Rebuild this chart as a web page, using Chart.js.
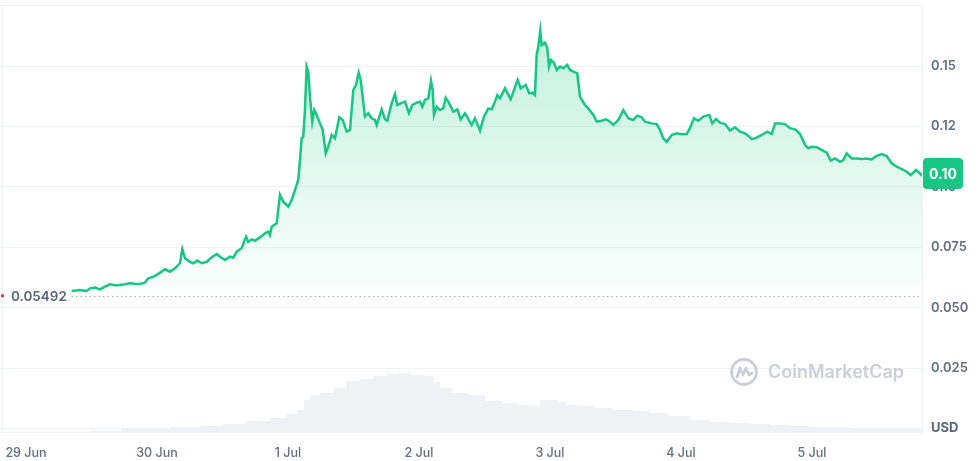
<!DOCTYPE html>
<html><head><meta charset="utf-8">
<script src="https://cdn.jsdelivr.net/npm/chart.js@4.4.1/dist/chart.umd.min.js"></script>
<style>html,body{margin:0;padding:0;background:#fff}#wrap{width:980px;height:461px;position:relative}</style>
</head><body><div id="wrap"><canvas id="c" width="980" height="461"></canvas></div>
<script>
// ---- data ----
const dayLabels = ['29 Jun','30 Jun','1 Jul','2 Jul','3 Jul','4 Jul','5 Jul'];
const dayHours = [0,24,48,72,96,120,144];           // hours since 29 Jun 00:00
const yTickValues = [0,0.025,0.05,0.075,0.1,0.125,0.15,0.175];
const yTickLabels = ['USD','0.025','0.050','0.075','0.10','0.12','0.15',''];
const openPrice = 0.05492;
const openLabel = '0.05492';
const lastLabel = '0.10';
const watermark = 'CoinMarketCap';

// [hour, price USD]
const priceSeries = [
[8.37,0.0569],[9.89,0.0573],[11.12,0.0569],[11.73,0.0580],[12.64,0.0583],[13.56,0.0576],[14.47,0.0587],[15.39,0.0597],
[16.31,0.0593],[17.22,0.0594],[18.14,0.0597],[19.05,0.0601],[19.97,0.0599],[20.89,0.0598],[21.80,0.0604],[22.41,0.0622],
[23.32,0.0628],[24.24,0.0640],[25.47,0.0659],[26.38,0.0649],[27.30,0.0663],[28.21,0.0684],[28.64,0.0742],[29.13,0.0705],
[30.05,0.0690],[30.65,0.0684],[31.38,0.0695],[32.19,0.0684],[33.11,0.0690],[34.02,0.0709],[34.94,0.0722],[35.54,0.0711],
[36.46,0.0697],[37.37,0.0711],[37.98,0.0707],[38.60,0.0732],[39.52,0.0746],[40.31,0.0794],[40.73,0.0773],[41.35,0.0783],
[41.96,0.0777],[42.87,0.0791],[43.79,0.0808],[44.39,0.0815],[44.70,0.0801],[45.01,0.0835],[45.93,0.0849],[46.54,0.0967],
[47.14,0.0939],[48.06,0.0918],[48.68,0.0946],[49.28,0.0987],[49.89,0.1029],[50.20,0.1111],[50.51,0.1201],[50.80,0.1208],
[51.11,0.1318],[51.42,0.1498],[51.72,0.1477],[52.03,0.1373],[52.45,0.1270],[52.82,0.1318],[53.26,0.1298],[53.86,0.1263],
[54.36,0.1236],[54.91,0.1139],[55.38,0.1166],[56.01,0.1215],[56.61,0.1201],[57.40,0.1288],[58.02,0.1277],[58.76,0.1229],
[59.36,0.1236],[59.97,0.1401],[60.46,0.1422],[60.95,0.1473],[61.32,0.1443],[62.11,0.1291],[62.71,0.1305],[63.34,0.1284],
[63.94,0.1277],[64.25,0.1256],[65.17,0.1321],[65.77,0.1280],[66.19,0.1274],[67.00,0.1346],[67.60,0.1385],[68.02,0.1339],
[68.65,0.1346],[69.44,0.1353],[70.17,0.1305],[70.77,0.1339],[71.58,0.1349],[72.19,0.1353],[72.61,0.1332],[73.10,0.1360],
[73.71,0.1367],[74.20,0.1440],[74.51,0.1401],[74.75,0.1298],[75.24,0.1332],[75.85,0.1318],[76.45,0.1325],[76.89,0.1369],
[77.37,0.1353],[78.29,0.1311],[79.02,0.1321],[79.64,0.1280],[80.43,0.1305],[81.66,0.1256],[82.26,0.1284],[83.18,0.1233],
[83.91,0.1291],[84.70,0.1325],[85.32,0.1321],[85.93,0.1353],[86.35,0.1380],[86.84,0.1367],[87.76,0.1408],[88.80,0.1363],
[89.41,0.1401],[90.08,0.1443],[90.63,0.1408],[91.11,0.1415],[91.55,0.1422],[92.21,0.1387],[92.83,0.1390],[93.25,0.1380],
[93.56,0.1546],[93.86,0.1580],[94.22,0.1647],[94.48,0.1587],[95.09,0.1597],[95.51,0.1574],[95.82,0.1498],[96.18,0.1525],
[96.73,0.1514],[97.23,0.1484],[97.83,0.1498],[98.44,0.1491],[99.17,0.1505],[99.67,0.1484],[100.58,0.1474],[101.00,0.1470],
[101.50,0.1373],[102.41,0.1339],[103.02,0.1325],[103.94,0.1298],[104.56,0.1270],[105.47,0.1274],[106.26,0.1280],[106.99,0.1270],
[107.60,0.1256],[108.52,0.1277],[109.43,0.1318],[110.35,0.1284],[111.26,0.1277],[111.99,0.1295],[112.80,0.1288],[113.41,0.1270],
[114.63,0.1263],[115.55,0.1260],[116.15,0.1236],[116.76,0.1201],[117.38,0.1187],[118.30,0.1215],[119.22,0.1222],[120.13,0.1218],
[121.05,0.1219],[121.65,0.1243],[122.38,0.1284],[123.17,0.1274],[124.09,0.1291],[125.19,0.1298],[125.74,0.1263],[126.42,0.1281],
[127.15,0.1266],[128.07,0.1260],[128.98,0.1233],[129.90,0.1247],[130.82,0.1229],[131.73,0.1222],[132.52,0.1208],[132.96,0.1198],
[133.88,0.1204],[134.79,0.1215],[135.82,0.1229],[136.63,0.1219],[137.23,0.1263],[138.15,0.1263],[139.06,0.1260],[139.98,0.1243],
[141.08,0.1236],[141.81,0.1219],[142.73,0.1173],[143.33,0.1160],[143.95,0.1166],[144.87,0.1164],[145.78,0.1153],[146.70,0.1142],
[147.43,0.1109],[148.22,0.1118],[149.13,0.1104],[149.74,0.1111],[150.36,0.1139],[151.28,0.1118],[152.19,0.1118],[153.11,0.1116],
[154.02,0.1118],[154.94,0.1114],[155.86,0.1129],[156.77,0.1136],[157.69,0.1128],[158.61,0.1098],[159.52,0.1084],[160.44,0.1074],
[161.36,0.1063],[162.09,0.1049],[163.06,0.1070],[163.79,0.1056],[164.21,0.1045]
];

// [hour, relative 24h volume]
const volumeSeries = [
[11.7,1],[23.3,3],[29.5,5],[34.3,6],[37.9,8],[42.9,11],[46.5,14],[48.9,18],[50.5,22],[51.4,32],[52.6,37],[55.1,39],
[57.5,44],[60.0,51],[62.4,53],[64.9,56],[67.3,58],[69.1,59],[71.6,57],[74.0,56],[75.2,50],[76.5,44],[79.5,39],[82.6,37],
[85.6,31],[88.7,29],[91.7,27],[93.6,26],[94.8,32],[96.6,32],[98.4,30],[99.7,27],[102.7,26],[105.8,24],[109.4,22],[113.1,21],
[115.5,19],[119.8,16],[123.5,12],[127.1,10],[130.8,9],[134.5,8],[138.1,7],[141.8,6],[145.5,5],[149.1,5],[152.8,4],[156.5,4],
[160.1,3],[164.2,3]
];

// ---- chart ----
const GREEN = '#16c784';
const GRID = '#eff2f5';
const LABEL = '#616e85';

const overlay = {
  id: 'overlay',
  beforeDatasetsDraw(chart) {
    const {ctx, chartArea, scales} = chart;
    const y = scales.y.getPixelForValue(openPrice);
    const x0 = scales.x.getPixelForValue(priceSeries[0][0]);
    ctx.save();
    ctx.strokeStyle = '#9aa3b5';
    ctx.lineWidth = 1;
    ctx.setLineDash([1.2, 3.3]);
    ctx.beginPath();
    ctx.moveTo(x0, Math.round(y) + 0.5);
    ctx.lineTo(chartArea.right, Math.round(y) + 0.5);
    ctx.stroke();
    ctx.restore();
  },
  afterDraw(chart) {
    const {ctx, chartArea, scales} = chart;
    ctx.save();
    // left faint border
    ctx.strokeStyle = GRID;
    ctx.lineWidth = 1;
    ctx.beginPath();
    ctx.moveTo(chartArea.left + 2.5, chartArea.top);
    ctx.lineTo(chartArea.left + 2.5, chartArea.bottom);
    ctx.stroke();

    // open price label
    const yo = scales.y.getPixelForValue(openPrice);
    ctx.fillStyle = 'rgba(255,255,255,0.92)';
    ctx.fillRect(8, yo - 9, 62, 18);
    ctx.fillStyle = '#ea3943';
    ctx.fillRect(1, yo - 1.5, 3, 3);
    ctx.font = '600 13.5px Inter, "Open Sans", sans-serif';
    ctx.fillStyle = '#58667e';
    ctx.textBaseline = 'middle';
    ctx.textAlign = 'left';
    ctx.fillText(openLabel, 11, yo + 1);

    // current price badge
    const last = priceSeries[priceSeries.length - 1][1];
    const yl = scales.y.getPixelForValue(last) - 2.5;
    const bx = chartArea.right + 1, bw = 40, bh = 31;
    ctx.fillStyle = GREEN;
    ctx.beginPath();
    ctx.roundRect(bx, yl - bh / 2, bw, bh, 4);
    ctx.fill();
    ctx.fillStyle = '#ffffff';
    ctx.font = '700 14px Inter, "Open Sans", sans-serif';
    ctx.textAlign = 'center';
    ctx.fillText(lastLabel, bx + bw / 2, yl + 1);

    // watermark
    const cx = 744, cy = 372, r = 12.5;
    ctx.strokeStyle = '#c9ced7';
    ctx.lineWidth = 2.8;
    ctx.lineCap = 'round';
    ctx.lineJoin = 'round';
    ctx.beginPath();
    ctx.arc(cx, cy, r, 0, Math.PI * 2);
    ctx.stroke();
    ctx.beginPath();
    ctx.moveTo(cx - 7, cy + 5);
    ctx.lineTo(cx - 4, cy - 4);
    ctx.lineTo(cx - 1, cy + 3);
    ctx.lineTo(cx + 2, cy - 4);
    ctx.lineTo(cx + 5, cy + 3);
    ctx.lineTo(cx + 8, cy + 1);
    ctx.stroke();
    ctx.fillStyle = '#c9ced7';
    ctx.font = '600 18px Inter, "Open Sans", sans-serif';
    ctx.textAlign = 'left';
    ctx.textBaseline = 'middle';
    ctx.fillText(watermark, 768, cy + 1);
    ctx.restore();
  }
};

const ctxEl = document.getElementById('c');
new Chart(ctxEl, {
  data: {
    datasets: [
      {
        type: 'line',
        data: priceSeries.map(([x, y]) => ({x, y})),
        yAxisID: 'y',
        borderColor: GREEN,
        borderWidth: 2.5,
        pointRadius: 0,
        tension: 0,
        order: 0,
        fill: {value: openPrice},
        backgroundColor: (c) => {
          const ch = c.chart;
          if (!ch.chartArea || !ch.scales.y) return 'rgba(22,199,132,0.15)';
          const ys = ch.scales.y;
          const g = ch.ctx.createLinearGradient(0, ys.getPixelForValue(0.165), 0, ys.getPixelForValue(openPrice));
          g.addColorStop(0, 'rgba(22,199,132,0.26)');
          g.addColorStop(1, 'rgba(22,199,132,0.02)');
          return g;
        }
      },
      {
        type: 'line',
        data: volumeSeries.map(([x, y]) => ({x, y})),
        yAxisID: 'yVol',
        stepped: 'middle',
        borderWidth: 0,
        borderColor: 'rgba(0,0,0,0)',
        pointRadius: 0,
        order: 1,
        fill: 'origin',
        backgroundColor: '#eff1f5'
      }
    ]
  },
  options: {
    responsive: false,
    animation: false,
    devicePixelRatio: 1,
    layout: {padding: {top: 5, left: 0, right: 0, bottom: 0}},
    plugins: {legend: {display: false}, tooltip: {enabled: false}},
    scales: {
      x: {
        type: 'linear',
        min: -4.76,
        max: 164.16,
        grid: {display: false, drawTicks: false},
        border: {display: true, color: GRID},
        afterBuildTicks: (s) => { s.ticks = dayHours.map(v => ({value: v})); },
        afterFit: (s) => { s.height = 29; s.paddingLeft = 0; s.paddingRight = 0; },
        ticks: {
          autoSkip: false, maxRotation: 0, padding: 14,
          color: LABEL,
          font: {family: 'Inter, "Open Sans", sans-serif', size: 12.5, weight: '500'},
          callback: (v) => { const i = dayHours.indexOf(v); return i >= 0 ? dayLabels[i] : ''; }
        }
      },
      y: {
        position: 'right',
        min: -0.00145,
        max: 0.1753,
        grid: {color: GRID, drawTicks: false},
        border: {display: true, color: GRID},
        afterBuildTicks: (s) => { s.ticks = yTickValues.map(v => ({value: v})); },
        afterFit: (s) => { s.width = 58; s.paddingTop = 0; s.paddingBottom = 0; },
        ticks: {
          padding: 9,
          color: (c) => c.index === 0 ? '#58667e' : LABEL,
          font: (c) => ({family: 'Inter, "Open Sans", sans-serif', size: 13, weight: c.index === 0 ? '700' : '600'}),
          callback: (v, i) => yTickLabels[i]
        }
      },
      yVol: {
        display: false,
        min: 0,
        max: 427
      }
    }
  },
  plugins: [overlay]
});
</script>
</body></html>
